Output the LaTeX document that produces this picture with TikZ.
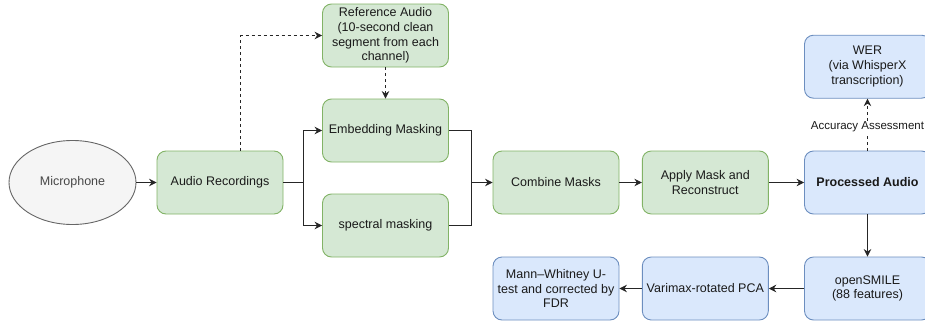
\documentclass[tikz,border=0pt]{standalone}
\usepackage{fontspec}
\setmainfont{Liberation Sans}
\usetikzlibrary{arrows.meta,calc,shapes.geometric}
\definecolor{gfill}{HTML}{D5E8D4}
\definecolor{gline}{HTML}{82B366}
\definecolor{bfill}{HTML}{DAE8FC}
\definecolor{bline}{HTML}{6C8EBF}
\definecolor{efill}{HTML}{F5F5F5}
\definecolor{eline}{HTML}{666666}
\definecolor{txt}{HTML}{1A1A1A}
\tikzset{
  x=1pt, y=-1pt,
  box/.style={draw, rounded corners=9pt, line width=0.9pt, minimum width=126pt, minimum height=63pt,
    inner sep=2pt, align=center, text=txt, font=\fontsize{12.5}{14.8}\selectfont},
  gbox/.style={box, fill=gfill, draw=gline},
  bbox/.style={box, fill=bfill, draw=bline},
  conn/.style={draw=black!85, line width=0.9pt},
  arr/.style={conn, -{Stealth[length=7.5pt,width=7.5pt,inset=2.5pt]}},
  dsh/.style={dash pattern=on 3pt off 3pt},
}
\begin{document}
\begin{tikzpicture}
\useasboundingbox (0,0) rectangle (925,324);
\node[ellipse, draw=eline, fill=efill, line width=0.9pt, minimum width=127pt, minimum height=84pt, inner sep=0pt,
  text=txt!80, font=\fontsize{12.5}{14.8}\selectfont] (mic) at (72.5,182.5) {Microphone};
\node[gbox] (ar) at (220,182.5) {Audio Recordings};
\node[gbox] (ra) at (385.5,35.5) {Reference Audio\\(10-second clean\\segment from each\\channel)};
\node[gbox] (em) at (385.5,130.5) {Embedding Masking};
\node[gbox] (sp) at (385.5,225.5) {spectral masking};
\node[gbox] (cm) at (556,182.5) {Combine Masks};
\node[gbox] (am) at (705.3,182.5) {Apply Mask and\\Reconstruct};
\node[bbox, font=\fontsize{12.5}{14.8}\selectfont\bfseries] (pa) at (867.5,182.5) {Processed Audio};
\node[bbox] (wer) at (867.5,66.7) {WER\\(via WhisperX\\transcription)};
\node[bbox] (os) at (867.5,288.5) {openSMILE\\(88 features)};
\node[bbox] (vx) at (705.3,288.5) {Varimax-rotated PCA};
\node[bbox] (mw) at (556,288.5) {Mann–Whitney U-\\test and corrected by\\FDR};
\coordinate (split) at (303,182.5);
\coordinate (merge) at (471,182.5);
\draw[arr] (mic) -- (ar);
\draw[conn] (ar.east) -- (split);
\draw[arr] (split) |- (em.west);
\draw[arr] (split) |- (sp.west);
\draw[conn] (em.east) -| (merge);
\draw[conn] (sp.east) -| (merge);
\draw[arr] (merge) -- (cm.west);
\draw[arr] (cm) -- (am);
\draw[arr] (am) -- (pa);
\draw[arr, dsh] ($(ar.north)+(20.7,0)$) |- (ra.west);
\draw[arr, dsh] (ra) -- (em);
\draw[arr, dsh] (pa) -- node[pos=0.46, fill=white, inner sep=1pt, text=txt, font=\fontsize{11.5}{13}\selectfont] {Accuracy Assessment} (wer);
\draw[arr] (pa) -- (os);
\draw[arr] (os) -- (vx);
\draw[arr] (vx) -- (mw);
\end{tikzpicture}
\end{document}
